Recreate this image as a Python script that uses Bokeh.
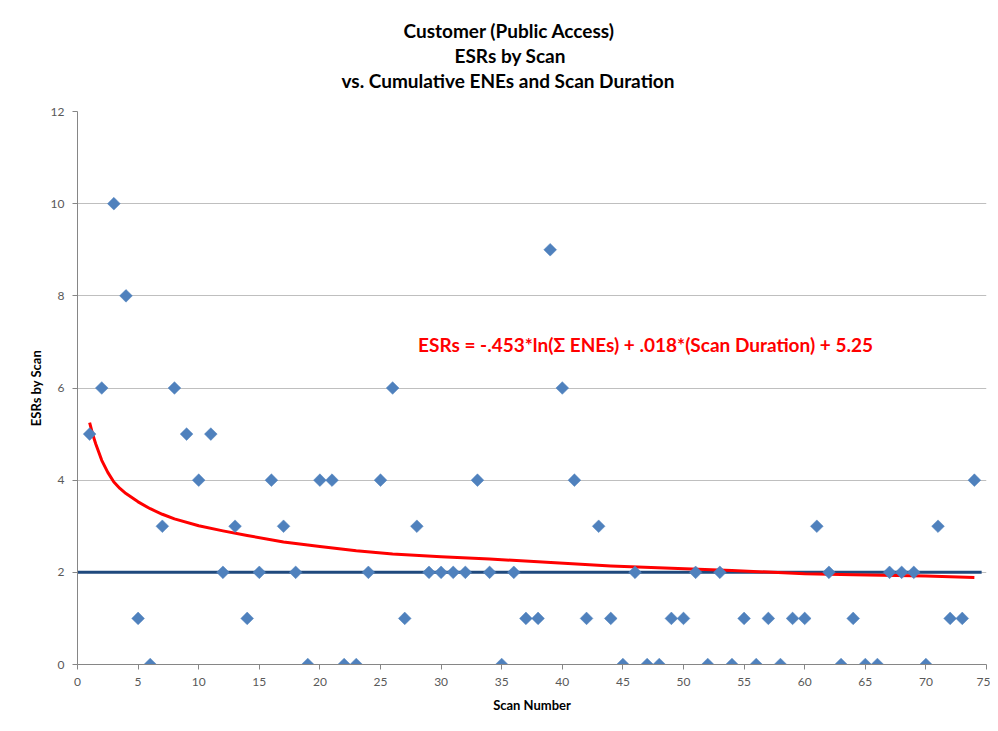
import math
from bokeh.plotting import figure
from bokeh.models import Range1d, Label, FixedTicker, Title
from bokeh.embed import file_html
from bokeh.resources import INLINE

# ---- data ----
scan_number = list(range(1, 75))
esrs = [5, 6, 10, 8, 1, 0, 3, 6, 5, 4,
        5, 2, 3, 1, 2, 4, 3, 2, 0, 4,
        4, 0, 0, 2, 4, 6, 1, 3, 2, 2,
        2, 2, 4, 2, 0, 2, 1, 1, 9, 6,
        4, 1, 3, 1, 0, 2, 0, 0, 1, 1,
        2, 0, 2, 0, 1, 0, 1, 0, 1, 1,
        3, 2, 0, 1, 0, 0, 2, 2, 2, 0,
        3, 1, 1, 4]

# fitted model curve
fit_x = [1, 1.25, 1.5, 2, 2.5, 3, 3.5, 4, 5, 6, 7, 8, 10, 12, 14, 17, 20, 23, 26, 30, 34, 38,
         44, 49, 54, 60, 64, 70, 74]
fit_y = [5.25, 5.0, 4.79, 4.43, 4.17, 3.96, 3.82, 3.71, 3.53, 3.38, 3.26, 3.16, 3.01, 2.90, 2.80,
         2.66, 2.56, 2.47, 2.40, 2.34, 2.29, 2.23, 2.14, 2.09, 2.04, 1.97, 1.95, 1.92, 1.89]

# reference level line
ref_x = [0, 74.6]
ref_y = [2, 2]

x_ticks = list(range(0, 80, 5))
y_ticks = list(range(0, 14, 2))

title_lines = ["Customer (Public Access)", "ESRs by Scan", "vs. Cumulative ENEs and Scan Duration"]
equation = "ESRs = -.453*ln(\u03a3 ENEs) + .018*(Scan Duration) + 5.25"

FONT = "Lato"

p = figure(width=990, height=723, output_backend="svg", toolbar_location=None,
           x_range=Range1d(0, 75), y_range=Range1d(0, 12),
           frame_width=909, frame_height=553,
           min_border_left=77, min_border_right=4, min_border_top=111, min_border_bottom=59)
p.outline_line_color = None
p.background_fill_color = "white"
p.border_fill_color = "white"

# spacer between plot area and title block
p.add_layout(Title(text=" ", text_font=FONT, text_font_size="15px", standoff=0), "above")

# chart title: innermost line added first; left offsets centre each line near x=508
title_offsets = [326, 377, 264]
for t, off in reversed(list(zip(title_lines, title_offsets))):
    p.add_layout(Title(text=t, align="left", offset=off, standoff=0, text_font=FONT,
                       text_font_size="19px", text_font_style="bold", text_color="#000000"),
                 "above")

# axes
for ax in (p.xaxis[0], p.yaxis[0]):
    ax.axis_line_color = "#868686"
    ax.major_tick_line_color = "#868686"
    ax.major_tick_out = 5
    ax.major_tick_in = 0
    ax.minor_tick_line_color = None
    ax.major_label_text_font = FONT
    ax.major_label_text_font_size = "12px"
    ax.major_label_text_color = "#595959"
    ax.axis_label_text_font = FONT
    ax.axis_label_text_font_size = "13px"
    ax.axis_label_text_font_style = "bold"
    ax.axis_label_text_color = "#000000"
    ax.major_label_standoff = 8
p.xaxis.axis_label_standoff = 8
p.yaxis.axis_label_standoff = 4

p.xaxis.ticker = FixedTicker(ticks=x_ticks)
p.yaxis.ticker = FixedTicker(ticks=y_ticks)
p.xaxis.axis_label = "Scan Number"
p.yaxis.axis_label = "ESRs by Scan"

p.xgrid.grid_line_color = None
p.ygrid.grid_line_color = "#bfbfbf"
p.ygrid.grid_line_width = 1

# lines
p.line(ref_x, ref_y, line_color="#1f497d", line_width=3)
p.line(fit_x, fit_y, line_color="#ff0000", line_width=3, line_join="round")

# points
p.scatter(scan_number, esrs, marker="square", size=9, angle=math.pi / 4,
          fill_color="#4f81bd", line_color="#4f81bd", line_width=0.5)

p.add_layout(Label(x=28.1, y=6.94, text=equation, text_font=FONT, text_font_size="19px",
                   text_font_style="bold", text_color="#ff0000", text_baseline="middle",
                   text_align="left"))

open("out.html", "w").write(file_html(p, INLINE))
